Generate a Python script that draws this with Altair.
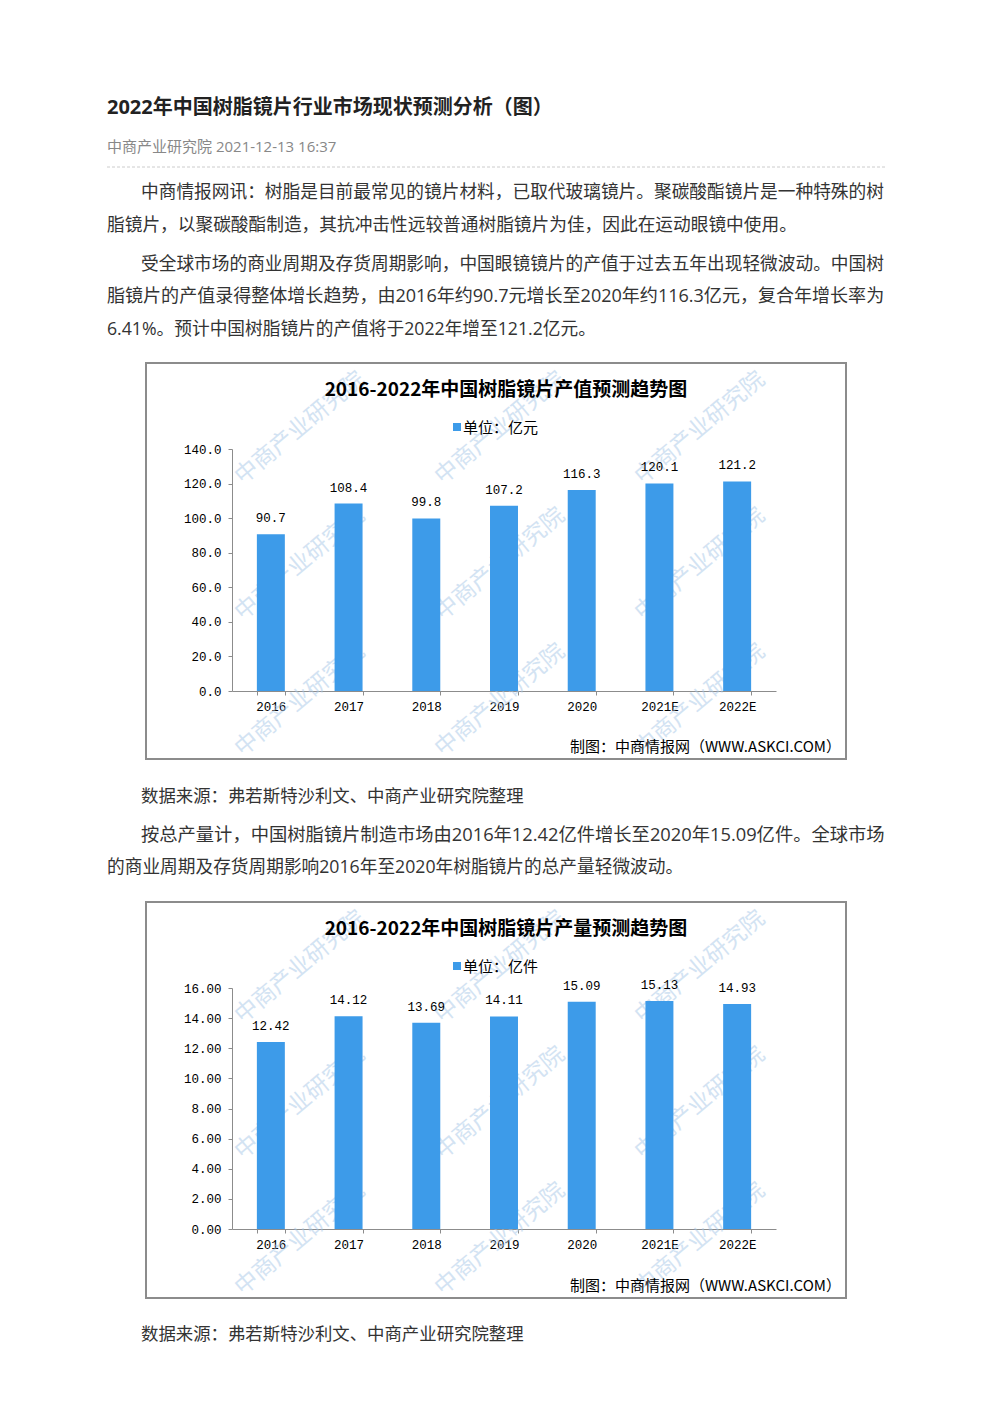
import altair as alt
import pandas as pd

# ---------------- data ----------------
years = ["2016", "2017", "2018", "2019", "2020", "2021E", "2022E"]
output_value = [90.7, 108.4, 99.8, 107.2, 116.3, 120.1, 121.2]      # 亿元
output_volume = [12.42, 14.12, 13.69, 14.11, 15.09, 15.13, 14.93]   # 亿件

value_ticks = [0, 20, 40, 60, 80, 100, 120, 140]
volume_ticks = [0, 2, 4, 6, 8, 10, 12, 14, 16]

page_title = "2022年中国树脂镜片行业市场现状预测分析（图）"
page_meta = "中商产业研究院 2021-12-13 16:37"
para1 = ["中商情报网讯：树脂是目前最常见的镜片材料，已取代玻璃镜片。聚碳酸酯镜片是一种特殊的树",
         "脂镜片，以聚碳酸酯制造，其抗冲击性远较普通树脂镜片为佳，因此在运动眼镜中使用。"]
para2 = ["受全球市场的商业周期及存货周期影响，中国眼镜镜片的产值于过去五年出现轻微波动。中国树",
         "脂镜片的产值录得整体增长趋势，由2016年约90.7元增长至2020年约116.3亿元，复合年增长率为",
         "6.41%。预计中国树脂镜片的产值将于2022年增至121.2亿元。"]
para3 = ["按总产量计，中国树脂镜片制造市场由2016年12.42亿件增长至2020年15.09亿件。全球市场",
         "的商业周期及存货周期影响2016年至2020年树脂镜片的总产量轻微波动。"]
source_note = "数据来源：弗若斯特沙利文、中商产业研究院整理"
chart1_title = "2016-2022年中国树脂镜片产值预测趋势图"
chart2_title = "2016-2022年中国树脂镜片产量预测趋势图"
chart1_unit = "单位：亿元"
chart2_unit = "单位：亿件"
credit = "制图：中商情报网（WWW.ASKCI.COM）"
watermark = "中商产业研究院"

W = 976
CJK = "Noto Sans CJK SC"
BODY = "Open Sans, Noto Sans CJK SC"
MONO = "Liberation Mono"
BLUE = "#3d9be9"
ONE = pd.DataFrame({"k": [0]})


def txt(s, x, y, size=17.5, color="#333333", weight="normal", align="left",
        font=BODY, angle=0, opacity=1.0, shift=2):
    return alt.Chart(pd.DataFrame({"t": [s]})).mark_text(
        align=align, baseline="middle", font=font, fontSize=size,
        color=color, fontWeight=weight, angle=angle, opacity=opacity
    ).encode(text="t:N", x=alt.value(x), y=alt.value(y + shift))


def watermarks():
    out = []
    for cx in (300, 500, 700):
        for cy in (66, 202, 338):
            out.append(txt(watermark, cx - 8, cy, size=23, color="#a8c8e8", font=CJK,
                           angle=320, align="center", opacity=0.5, shift=0))
    return out


# ---------------- header cell ----------------
H1 = 354
header_layers = [
    txt(page_title, 99, 98, size=20, color="#222222", weight="bold"),
    txt(page_meta, 99, 137, size=15, color="#888888"),
    alt.Chart(ONE).mark_rule(color="#cccccc", strokeDash=[3, 2], strokeWidth=1).encode(
        x=alt.value(99), x2=alt.value(877), y=alt.value(159)),
    txt(para1[0], 133, 183, size=17.7),
    txt(para1[1], 99, 216, size=17.7),
    txt(para2[0], 133, 255, size=17.7),
    txt(para2[1], 99, 287, size=18.05),
    txt(para2[2], 99, 320, size=17.7),
]
header = alt.layer(*header_layers).properties(width=W, height=H1)


# ---------------- chart panels ----------------
def panel(values, title, unit, ymax, ticks, fmt, H, y0, extra):
    df = pd.DataFrame({"year": years, "v": values})
    base = alt.Chart(df).encode(
        x=alt.X("year:N", sort=None,
                scale=alt.Scale(range=[224, 768], paddingInner=0.64, paddingOuter=0.32),
                axis=alt.Axis(title=None, labelAngle=0, tickBand="extent",
                              domainColor="#8c8c8c", tickColor="#8c8c8c", tickSize=4,
                              labelFont=MONO, labelFontSize=12.5, labelColor="#000000",
                              labelPadding=5, offset=-(H - y0))),
        y=alt.Y("v:Q",
                scale=alt.Scale(domain=[0, ymax], range=[y0, 87], nice=False, zero=True),
                axis=alt.Axis(title=None, values=ticks, format=fmt, grid=False,
                              domainColor="#8c8c8c", tickColor="#8c8c8c", tickSize=4,
                              labelFont=MONO, labelFontSize=12.5, labelColor="#000000",
                              labelPadding=7, offset=-224)),
    )
    bars = base.mark_bar(color=BLUE)
    labels = base.mark_text(dy=-16, baseline="middle", font=MONO, fontSize=12.5,
                            color="#000000").encode(text=alt.Text("v:Q", format=fmt))
    frame = alt.Chart(ONE).mark_rect(fillOpacity=0, stroke="#8c8c8c", strokeWidth=2).encode(
        x=alt.value(138), x2=alt.value(838), y=alt.value(1), y2=alt.value(397))
    layers = watermarks() + [
        frame, bars, labels,
        txt(title, 498, 26, size=19, color="#000000", weight="bold", align="center", font=CJK),
        alt.Chart(ONE).mark_point(shape="square", filled=True, color=BLUE, size=64,
                                  opacity=1).encode(x=alt.value(449), y=alt.value(65)),
        txt(unit, 455, 64, size=15, color="#000000", font=CJK),
        txt(credit, 833, 383, size=15, color="#000000", align="right", font=CJK),
    ] + extra
    return alt.layer(*layers).properties(width=W, height=H)


H2 = 539
chart1 = panel(output_value, chart1_title, chart1_unit, 140, value_ticks, ".1f", H2, 329, [
    txt(source_note, 133, 433, size=17.4),
    txt(para3[0], 133, 472, size=18.3),
    txt(para3[1], 99, 504, size=17.7),
])

H3 = 494
chart2 = panel(output_volume, chart2_title, chart2_unit, 16, volume_ticks, ".2f", H3, 328, [
    txt(source_note, 133, 432, size=17.4),
])

chart = alt.vconcat(header, chart1, chart2, spacing=0, padding=0, bounds="flush",
                    background="white").configure_view(stroke="transparent", strokeWidth=0)

chart.save("out.html", embed_options={"renderer": "svg", "actions": False})
